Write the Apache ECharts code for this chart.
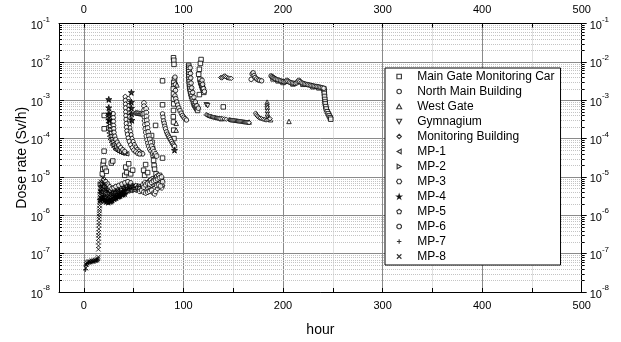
<!DOCTYPE html>
<html>
<head>
<meta charset="utf-8">
<script src="https://cdn.jsdelivr.net/npm/echarts@6/dist/echarts.min.js"></script>
<style>
html,body{margin:0;padding:0;background:#fff;}
#chart{width:621px;height:342px;}
</style>
</head>
<body>
<div id="chart"></div>
<script>
// Axis ranges
const X_MIN = -25, X_MAX = 500;
const Y_MIN = 1e-8, Y_MAX = 1e-1;

// Station names (legend order)
const stationNames = [
  'Main Gate Monitoring Car', 'North Main Building', 'West Gate', 'Gymnagium',
  'Monitoring Building', 'MP-1', 'MP-2', 'MP-3', 'MP-4', 'MP-5', 'MP-6', 'MP-7', 'MP-8'
];

// [hour, dose rate Sv/h]
const mainGate = [
  [18.5,1.2e-5],[19,1.6e-5],[19.3,2.1e-5],[19.8,2.6e-5],[20.3,4.7e-5],[20.4,4e-4],[20.4,1.8e-4],
  [21,1.7e-5],[22.5,1.4e-5],[27.5,2.3e-5],[29,2.6e-5],[41,1.1e-5],[42,1.8e-5],[43,1.3e-5],
  [45,2.2e-5],[47,1.2e-5],[49,1.5e-5],[60,1.5e-5],[61,1.1e-5],[62,2.1e-5],[64,1.3e-5],
  [68,1.2e-4],[68.5,8e-5],[69,5.5e-5],[69.5,3.7e-5],[70,2.7e-5],[70.5,2e-5],[71,1.6e-5],
  [72,2.2e-4],[72.5,1.2e-5],[74,1e-5],[76,1.1e-5],[78,8e-6],[79,3.1e-5],[79,3.2e-3],[79,7.6e-4],
  [90,1.28e-2],[90.3,1.1e-2],[90.5,8.6e-3],[91,3.5e-3],[90.2,2.9e-3],[90.5,2.4e-3],[89.8,2e-3],
  [90,1.46e-3],[90,1.08e-3],[90.2,8e-4],[90,5.4e-4],[89.8,3.7e-4],[90,2.7e-4],[90.2,1.66e-4],[90.5,1e-4],
  [105.3,8.1e-3],[105.3,7.2e-3],[105.3,6.4e-3],[105.4,5.5e-3],[105.4,4.75e-3],[105.5,4.1e-3],
  [105.6,3.5e-3],[105.8,3e-3],[106,2.6e-3],[106.2,2.2e-3],[106.5,1.96e-3],[107,1.7e-3],
  [107.5,1.46e-3],[108.2,1.25e-3],[109,1.08e-3],[110,9e-4],[110.7,8e-4],[111.5,7.2e-4],
  [112.5,6.6e-4],[113.5,6e-4],[114.2,5.4e-4],
  [117.7,1.15e-2],[117,9.1e-3],[116,6.4e-3],[115.3,4.75e-3],[116.5,3.5e-3],[117.3,2.9e-3],
  [118,2.7e-3],[118.3,2.4e-3],[119,2.2e-3],[119.5,1.96e-3],[120.5,1.6e-3],[116,1.4e-3],
  [140,6.7e-4],
  [190,3.6e-3],[195,3.2e-3],[200,2.9e-3],[210,2.65e-3],[220,2.6e-3],[230,2.25e-3],[236,2.1e-3],
  [241,2e-3],[241.3,1.75e-3],[241.5,1.5e-3],[241.7,1.25e-3],[242,1.05e-3],[242.3,9e-4],
  [242.5,8e-4],[243,6.8e-4],[243.5,5.9e-4],[244.5,5e-4],[245.5,4.4e-4],[246.5,3.9e-4],
  [247.5,3.5e-4],[248,3.2e-4]
];
const northMain = [
  [79,4.4e-4],[79.5,3.6e-4],[80,2.9e-4],[80.7,2.5e-4],[81.3,2.1e-4],[82,1.8e-4],[83,1.5e-4],
  [84,1.3e-4],[85,1.16e-4],[86,1.05e-4],[87,9.4e-5],[88,8.4e-5],[89,7.5e-5],[90,6.8e-5],[91,6.3e-5],
  [91.5,4e-3],[92,2.6e-3],[92,1.8e-3],
  [91.5,1.3e-3],[92.3,1.1e-3],[93.2,9e-4],[94.2,7.5e-4],[95.3,6.3e-4],[96.5,5.4e-4],
  [97.8,4.6e-4],[99,4e-4],[100.3,3.6e-4],[101.6,3.3e-4],[103,3.05e-4],
  [106.8,7e-3],[107,5e-3],[107.3,3.8e-3],[107.7,2.8e-3],[108.3,2.1e-3],[109.3,1.6e-3],
  [110.5,1.2e-3],[112,9e-4],[113.5,7.2e-4],[115,6.2e-4],
  [118.7,3.3e-3],[119.3,2.6e-3],[120.2,2e-3],[121,1.7e-3],
  [168,3.5e-3],[169,4.8e-3],[170,5.2e-3],[171,4.4e-3],[172,3.9e-3],[173.5,3.6e-3],
  [175,3.4e-3],[176.5,3.3e-3],[178.5,3.2e-3],
  [188,4.3e-3],[189,4.1e-3],[190,3.9e-3],[191,3.75e-3],[192,3.6e-3],[193,3.5e-3],[194.5,3.4e-3],
  [196,3.3e-3],[197.5,3.2e-3],[199,3.1e-3],[200.5,3.05e-3],[202,3e-3],[203,3.1e-3],[204,3.3e-3],
  [205,3.1e-3],[206.5,2.95e-3],[208,2.85e-3],[209.5,2.8e-3],[211,2.75e-3],[212.5,2.75e-3],
  [214,2.85e-3],[215,3.1e-3],[216,3.3e-3],[217,3.05e-3],[218.5,2.85e-3],[220,2.75e-3],
  [221.5,2.65e-3],[223,2.6e-3],[224.5,2.55e-3],[226,2.5e-3],[227.5,2.45e-3],[229,2.4e-3],
  [230.5,2.35e-3],[232,2.3e-3],[233.5,2.28e-3],[235,2.25e-3],[236.5,2.2e-3],[238,2.15e-3],
  [239.5,2.1e-3],[241,2.05e-3]
];
const westGate = [
  [92.7,2.5e-4],[92.7,1.66e-4],[93.5,2.5e-3],[138,3.3e-4],[166,2.7e-4],
  [184,8.9e-4],[184,7.6e-4],[184.2,6.6e-4],[184.3,5.4e-4],[184.4,4.4e-4],[184.7,3.7e-4],
  [185.5,3.3e-4],[187.5,3.1e-4],[206,2.8e-4]
];
const gymnasium = [[123,7.6e-4],[124.3,7.2e-4]];
const monitoringBldg = [
  [123,4.2e-4],[124,4.05e-4],[125,3.95e-4],[126,3.85e-4],[127,3.8e-4],[128,3.72e-4],[129,3.65e-4],
  [130,3.6e-4],[131,3.55e-4],[132,3.5e-4],[133,3.45e-4],[134,3.4e-4],[135,3.38e-4],[136,3.35e-4],
  [137,3.3e-4],[139,3.3e-4],[141,3.25e-4],[143,3.2e-4],
  [146,3.1e-4],[147,3.05e-4],[148,3.02e-4],[149,3e-4],[150,2.97e-4],[151,2.95e-4],[152,2.92e-4],
  [153,2.9e-4],[154,2.87e-4],[155,2.85e-4],[156,2.82e-4],[157,2.8e-4],[158,2.78e-4],[159,2.75e-4],
  [160,2.72e-4],[161,2.7e-4],[162,2.68e-4],[163,2.66e-4],[164,2.64e-4],[165,2.62e-4],[166,2.6e-4],
  [137.5,3.9e-3],[138.5,3.8e-3],[139.5,4e-3],[140.5,4.2e-3],[141.5,4.3e-3],[142.5,4.1e-3],
  [143.5,3.9e-3],[145,3.8e-3],[146.5,3.75e-3],[148,3.7e-3],
  [172.5,4.6e-4],[173.2,4.2e-4],[174,3.9e-4],[175,3.7e-4],[176,3.5e-4],[177,3.4e-4],[178.5,3.3e-4],
  [180,3.2e-4],[181.5,3.12e-4],[183,3.05e-4],[184.5,3.1e-4],[186,3.2e-4],[187,3.3e-4]
];
const mp1 = [
  [24,4e-4],[24.2,3.2e-4],[24.4,2.6e-4],[24.6,2.1e-4],[24.9,1.7e-4],[25.3,1.4e-4],[25.8,1.15e-4],
  [26.5,9.5e-5],[27.5,8e-5],[28.7,6.8e-5],[30,6e-5],[31.5,5.3e-5],[33,4.9e-5],[35,4.6e-5],
  [37,4.4e-5],[39,4.2e-5],[41,4.1e-5],[43,4e-5],
  [17,3e-6],[19,3.5e-6],[21,3.8e-6],[23,3.4e-6],[25,3e-6],[27,2.8e-6],[29,3.1e-6],[31,3.4e-6],
  [33,3.6e-6],[35,3.8e-6],[37,4e-6],[40,4.2e-6],[43,4.5e-6],[46,4.7e-6],[49,4.9e-6],[52,5e-6],[55,5.2e-6],
  [18,2.6e-6],[20,2.9e-6],[22,2.6e-6],[24,2.4e-6],[26,2.5e-6],[28,2.6e-6],[30,2.8e-6],[32,3e-6],
  [34,3.2e-6],[36,3.4e-6],[38,3.6e-6],[39,3.9e-6],[41,3.9e-6],[42,4.1e-6],[44,4.3e-6],[45,4.5e-6],
  [47,4.4e-6],[48,4.6e-6],[50,4.7e-6],[51,4.5e-6],[53,4.7e-6],[54,4.9e-6],[56,4.8e-6],[57,4.6e-6],[59,4.4e-6]
];
const mp2 = [
  [26.5,5e-4],[26.6,4e-4],[26.7,3.2e-4],[26.9,2.6e-4],[27.1,2.1e-4],[27.4,1.7e-4],[27.9,1.4e-4],
  [28.5,1.15e-4],[29.3,9.6e-5],[30.3,8.2e-5],[31.5,7e-5],[33,6.1e-5],[34.6,5.4e-5],[36.3,4.9e-5],
  [38,4.6e-5],[40,4.4e-5],[42,4.2e-5],
  [17.5,5e-6],[19.5,6e-6],[21.5,5.5e-6],[23.5,4.8e-6],[25.5,4.4e-6],[27.5,4.2e-6],[29.5,4.4e-6],
  [31.5,4.6e-6],[34,4.8e-6],[37,5.2e-6],[40,5.6e-6],[43,6e-6],[46,6.4e-6],[49,6.2e-6],[52,5.8e-6],
  [55,5.5e-6],[58,5e-6],[61,4.7e-6],[64,4.5e-6],
  [16.5,6.5e-6],[18.5,4e-6],[20.5,4.6e-6],[22.5,4.2e-6],[24.5,3.8e-6],[26.5,3.6e-6],[28.5,3.5e-6],
  [30.5,3.8e-6],[32.5,4e-6],[35,4.3e-6],[38,4.6e-6],[41,5e-6],[44,5.3e-6],[47,5.6e-6],[50,5.4e-6],
  [53,5.2e-6],[56,5.9e-6],[59,5.5e-6],[62,5.3e-6],[65,5e-6],[67,5.6e-6]
];
const mp3 = [
  [29.5,4.4e-4],[29.6,3.5e-4],[29.7,2.8e-4],[29.8,2.2e-4],[30,1.8e-4],[30.3,1.45e-4],[31,1.15e-4],
  [32,9.5e-5],[33.5,8e-5],[35,6.8e-5],[37,5.8e-5],[39,5.1e-5],[41,4.6e-5],
  [44.5,1.1e-3],[44.6,9e-4],[44.7,7.2e-4],[44.8,5.8e-4],[45,4.6e-4],[45.2,3.7e-4],[45.4,3e-4],
  [45.7,2.4e-4],[46.1,1.9e-4],[46.6,1.55e-4],[47.3,1.25e-4],[48.2,1e-4],[49.3,8.3e-5],[50.6,6.9e-5],
  [52,5.9e-5],[53.7,5.1e-5],[55.5,4.6e-5],[57.5,4.2e-5],[59,4e-5],
  [18,7e-6],[20,8.5e-6],[22,7.5e-6],[24,6.5e-6],[26,5.5e-6],[28,5e-6],[30,5.2e-6],[32,5.6e-6],
  [35,6e-6],[38,6.5e-6],[41,7e-6],[44,7.5e-6],[47,7e-6],[60,6e-6],[63,7e-6],[66,8e-6],[69,9e-6],
  [72,9.5e-6],[75,9e-6],[78,8.5e-6]
];
const mp4 = [
  [25,1.05e-3],[25,6.4e-4],[25.2,4.4e-4],[25.4,3e-4],[47.7,1.6e-3],[47.7,8.9e-4],[47.8,6.2e-4],
  [48,4.4e-4],[48.2,3e-4],[91,5e-5],
  [16.5,2.5e-6],[18.5,2.7e-6],[20.5,2.4e-6],[22.5,2.3e-6],[24.5,2.2e-6],[26.5,2.3e-6],[28.5,2.5e-6],
  [30.5,2.7e-6],[32.5,2.9e-6],[34.5,3.1e-6],[36.5,3.3e-6],[38.5,3.5e-6],[41,3.7e-6],
  [19.5,3e-6],[23.5,2.6e-6],[27.5,2.4e-6],[31.5,2.9e-6],[35.5,3.2e-6],[39.5,3.6e-6]
];
const mp5 = [
  [41.5,1.25e-3],[41.6,1e-3],[41.7,8e-4],[41.8,6.4e-4],[42,5e-4],[42.1,4e-4],[42.3,3.2e-4],
  [42.5,2.5e-4],[42.8,2e-4],[43.2,1.6e-4],[43.8,1.3e-4],[44.5,1.05e-4],[45.5,8.6e-5],[47,7e-5],
  [48.5,5.9e-5],[50,5.1e-5],[52,4.6e-5],[54,4.2e-5],[56,4e-5],
  [52,4.7e-4],[53,4.7e-4],[54,4.6e-4],[55,4.6e-4],[56,4.5e-4],[57,4.5e-4],[58,4.5e-4],[59,4.4e-4],
  [50,5.5e-6],[52,6e-6],[54,5.5e-6],[56,5e-6],[58,4.8e-6],[60,4.6e-6],[62,4.8e-6],[64,5.2e-6],
  [66,5.6e-6],[68,6e-6],[70,6.5e-6],[72,7e-6],[74,7.5e-6],[76,7e-6],[78,6.5e-6],[79,6e-6],
  [59,6.4e-6],[61,7.2e-6],[63,6.5e-6],[65,7.5e-6],[67,8.5e-6],[69,7.8e-6],[71,8.8e-6],[73,1.05e-5],
  [75,1.1e-5],[77,9.2e-6]
];
const mp6 = [
  [60.3,8.5e-4],[60.4,7e-4],[60.5,5.6e-4],[60.6,4.5e-4],[60.8,3.6e-4],[61,2.9e-4],[61.3,2.3e-4],
  [61.7,1.8e-4],[62.2,1.45e-4],[62.8,1.15e-4],[63.5,9.3e-5],[64.3,7.6e-5],[65.2,6.3e-5],
  [66.3,5.3e-5],[67.5,4.7e-5],[69,4.2e-5],[71,3.8e-5],
  [62.5,6e-4],[62.7,4.8e-4],[62.9,3.8e-4],[63.2,3e-4],[63.6,2.4e-4],[64,1.9e-4],[64.6,1.5e-4],
  [65.3,1.2e-4],[66.1,9.6e-5],[67,7.8e-5],[68,6.4e-5],[69.2,5.4e-5],[70.5,4.6e-5],[72,4e-5],[73,3.5e-5],
  [56,4.2e-6],[58,4.4e-6],[60,4e-6],[62,3.8e-6],[64,4e-6],[66,4.2e-6],[68,4.5e-6],[70,3.8e-6],
  [71,3.6e-6],[72,4.2e-6],[74,5e-6],[76,5.5e-6],[78,5.2e-6],
  [60,5.4e-6],[62,6.2e-6],[64,6.8e-6],[66,6.5e-6],[68,7.2e-6],[70,7.8e-6],[72,8.2e-6],[74,8.8e-6],
  [76,9.5e-6],[78,1e-5],[79,7.5e-6],[73,6e-6],[75,6.2e-6],[77,5.8e-6]
];
const mp7 = [
  [1.5,3.8e-8],[2,5e-8],[3,5.4e-8],[5,5.7e-8],[7,5.9e-8],[9,6.1e-8],[11,6.2e-8],[13,6.5e-8],[14,6.9e-8],
  [16,4e-6],[17,6e-6],[18,4.5e-6],[20,3.2e-6],[24,4e-6],[28,3.8e-6],[32,4.2e-6],[36,4.5e-6],
  [40,5e-6],[44,5.4e-6],
  [19,7e-6],[21,5e-6],[23,4.4e-6],[26,3.2e-6],[30,3.3e-6],[34,3.7e-6],[38,3.9e-6],[42,4.6e-6],
  [46,5e-6],[50,5.3e-6],[54,5.6e-6]
];
const mp8 = [
  [2,4.2e-8],[2.5,5.2e-8],[3,5.8e-8],[4,6e-8],[5,6.2e-8],[6,6.1e-8],[7,6.3e-8],[8,6.5e-8],[9,6.4e-8],
  [10,6.6e-8],[11,6.8e-8],[12,6.7e-8],[13,7e-8],[14,7.4e-8],[14.5,8.2e-8],
  [14.6,1.3e-7],[14.7,1.6e-7],[14.6,2e-7],[14.8,2.5e-7],[14.7,3e-7],[14.9,3.6e-7],[15,4.4e-7],
  [15.1,5.5e-7],[15.2,6.5e-7],[15.3,8e-7],[15.4,9.5e-7],[15.5,1.1e-6],[15.6,1.3e-6],[15.7,1.5e-6],
  [15.8,1.8e-6],[15.9,2.1e-6],[16,2.5e-6],[16.1,3e-6],[16.2,3.5e-6],[16.4,4.2e-6],[16.6,5e-6],
  [16.5,4e-6],[18,5.5e-6],[19,9.5e-6],[22,6e-6],[26,3.8e-6],[30,4e-6],[34,4.4e-6],[38,4.2e-6],
  [42,5e-6],[46,5.8e-6],[50,6e-6],
  [17,7.5e-6],[20,6.5e-6],[21,4.2e-6],[24,3.1e-6],[28,3.3e-6],[32,3.5e-6],[36,3.9e-6],[40,4.4e-6],
  [44,4.8e-6],[48,5.2e-6]
];

const stationData = [mainGate, northMain, westGate, gymnasium, monitoringBldg,
  mp1, mp2, mp3, mp4, mp5, mp6, mp7, mp8];

// Marker shapes per station (paths keep their aspect in the legend)
const stationSymbols = [
  'path://M0,0L10,0L10,10L0,10Z',
  'circle',
  'path://M5,0L10,9L0,9Z',
  'path://M0,0L10,0L5,9Z',
  'path://M5,0L10,5L5,10L0,5Z',
  'path://M9,0L9,10L0,5Z',
  'path://M0,0L0,10L9,5Z',
  'path://M2.5,0L7.5,0L10,4.33L7.5,8.66L2.5,8.66L0,4.33Z',
  'path://M5,0L6.2,3.6L10,3.6L6.9,5.9L8.1,9.5L5,7.3L1.9,9.5L3.1,5.9L0,3.6L3.8,3.6Z',
  'path://M5,0L10,3.8L8.1,9.5L1.9,9.5L0,3.8Z',
  'path://M3,0L7,0L10,3L10,7L7,10L3,10L0,7L0,3Z',
  'path://M5,0L5,10M0,5L10,5',
  'path://M0,0L10,10M10,0L0,10'
];

// Minor log gridline values (2..9 within each decade)
const yMinor = [];
for (let e = -8; e <= -2; e++) {
  for (let m = 2; m <= 9; m++) yMinor.push(m * Math.pow(10, e));
}

const FONT = 'Liberation Sans, Arial, sans-serif';

function expLabel(v) {
  const e = Math.round(Math.log10(v));
  return '{b|10}{s|' + e + '}';
}
const expRich = {
  b: {fontSize: 11, fontFamily: FONT, color: '#000', lineHeight: 16, verticalAlign: 'bottom'},
  s: {fontSize: 8, fontFamily: FONT, color: '#000', lineHeight: 16, verticalAlign: 'top'}
};

const chart = echarts.init(document.getElementById('chart'), null, {renderer: 'canvas'});

const scatterSeries = stationNames.map((name, i) => ({
  name: name,
  type: 'scatter',
  data: stationData[i],
  symbol: stationSymbols[i],
  symbolSize: i === 8 ? 6 : 4.5,
  xAxisIndex: 0,
  yAxisIndex: 0,
  z: 5,
  itemStyle: {
    color: i === 8 ? '#000' : '#fff',
    borderColor: '#000',
    borderWidth: 1
  },
  emphasis: {disabled: true}
}));

const minorGridSeries = {
  type: 'custom',
  xAxisIndex: 0,
  yAxisIndex: 0,
  z: 1,
  silent: true,
  data: yMinor.map(v => [X_MIN, v]),
  renderItem: function (params, api) {
    const v = api.value(1);
    const p0 = api.coord([X_MIN, v]);
    const p1 = api.coord([X_MAX, v]);
    const y = Math.round(p0[1]) + 0.5;
    return {
      type: 'group',
      children: [
        {type: 'line', shape: {x1: p0[0], y1: y, x2: p1[0], y2: y},
          style: {stroke: '#c4c4c4', lineWidth: 1, lineDash: [1, 1]}},
        {type: 'line', shape: {x1: p0[0], y1: y, x2: p0[0] + 3, y2: y},
          style: {stroke: '#000', lineWidth: 1}},
        {type: 'line', shape: {x1: p1[0], y1: y, x2: p1[0] + 3, y2: y},
          style: {stroke: '#000', lineWidth: 1}}
      ]
    };
  }
};

const xBase = {
  type: 'value',
  min: X_MIN,
  max: X_MAX,
  splitNumber: 5,
  axisLine: {show: true, onZero: false, lineStyle: {color: '#000', width: 1}},
  axisTick: {show: true, inside: true, length: 4, lineStyle: {color: '#000'}},
  minorTick: {show: true, splitNumber: 2, length: 4, lineStyle: {color: '#000'}},
  axisLabel: {showMinLabel: false, fontSize: 11, fontFamily: FONT, color: '#000', margin: 8}
};

const option = {
  animation: false,
  backgroundColor: '#fff',
  textStyle: {fontFamily: FONT},
  grid: {left: 59, top: 23.5, right: 39.3, bottom: 46, containLabel: false},
  legend: {
    data: stationNames,
    orient: 'vertical',
    left: 385,
    top: 68,
    itemWidth: 24,
    itemHeight: 4.5,
    itemGap: 0,
    padding: [1, 6, 1, 11],
    backgroundColor: '#fff',
    borderColor: '#000',
    borderWidth: 1,
    borderRadius: 0,
    selectedMode: false,
    itemStyle: {borderWidth: 1.1},
    textStyle: {fontSize: 12, fontFamily: FONT, color: '#000', lineHeight: 15, padding: [0, 0, 0, 1]}
  },
  xAxis: [
    Object.assign({}, xBase, {
      position: 'bottom',
      name: 'hour',
      nameLocation: 'middle',
      nameGap: 31,
      nameMoveOverlap: false,
      nameTextStyle: {fontSize: 14, fontFamily: FONT, color: '#000'},
      splitLine: {show: true, lineStyle: {color: '#8a8a8a', width: 1}},
      minorSplitLine: {show: true, lineStyle: {color: '#c4c4c4', width: 1, type: [1, 1]}}
    }),
    Object.assign({}, xBase, {
      position: 'top',
      splitLine: {show: false},
      minorSplitLine: {show: false}
    })
  ],
  yAxis: [
    {
      type: 'log',
      logBase: 10,
      min: Y_MIN,
      max: Y_MAX,
      splitNumber: 7,
      position: 'left',
      name: 'Dose rate (Sv/h)',
      nameLocation: 'middle',
      nameGap: 30,
      nameMoveOverlap: false,
      nameTextStyle: {fontSize: 14, fontFamily: FONT, color: '#000'},
      axisLine: {show: true, onZero: false, lineStyle: {color: '#000', width: 1}},
      axisTick: {show: true, inside: true, length: 5, lineStyle: {color: '#000'}},
      axisLabel: {formatter: expLabel, rich: expRich, margin: 9},
      splitLine: {show: true, lineStyle: {color: '#8a8a8a', width: 1}}
    },
    {
      type: 'log',
      logBase: 10,
      min: Y_MIN,
      max: Y_MAX,
      splitNumber: 7,
      position: 'right',
      axisLine: {show: true, onZero: false, lineStyle: {color: '#000', width: 1}},
      axisTick: {show: true, inside: false, length: 5, lineStyle: {color: '#000'}},
      axisLabel: {formatter: expLabel, rich: expRich, margin: 8},
      splitLine: {show: false}
    }
  ],
  series: [minorGridSeries].concat(scatterSeries)
};

chart.setOption(option);
</script>
</body>
</html>
